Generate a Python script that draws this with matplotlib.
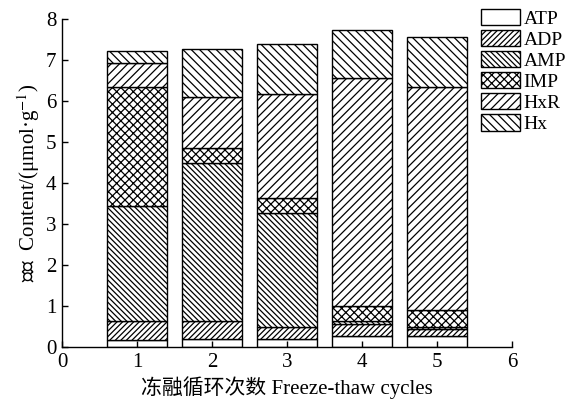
import matplotlib
matplotlib.use("Agg")
import matplotlib.pyplot as plt
import numpy as np

plt.rcParams['font.family'] = ['Liberation Serif', 'Noto Sans CJK SC']
plt.rcParams['mathtext.fontset'] = 'stix'
plt.rcParams['hatch.linewidth'] = 0.9

cycles = [1, 2, 3, 4, 5]
components = ["ATP", "ADP", "AMP", "IMP", "HxR", "Hx"]
ATP = [0.17, 0.20, 0.20, 0.27, 0.28]
ADP = [0.46, 0.43, 0.30, 0.29, 0.15]
AMP = [2.81, 3.85, 2.76, 0.08, 0.07]
IMP = [2.90, 0.38, 0.37, 0.37, 0.41]
HxR = [0.58, 1.23, 2.54, 5.54, 5.43]
Hx = [0.31, 1.19, 1.22, 1.18, 1.22]
series = [ATP, ADP, AMP, IMP, HxR, Hx]
hatches = ["", "//////", "\\\\\\\\\\\\", "xxxx", "////", "\\\\\\\\"]

fig = plt.figure(figsize=(5.71, 4.05), dpi=100)
ax = fig.add_axes([0.1086, 0.1432, 0.788, 0.8098])

bottom = np.zeros(len(cycles))
for name, vals, h in zip(components, series, hatches):
    ax.bar(cycles, vals, width=0.8, bottom=bottom, color="white",
           edgecolor="black", linewidth=1.0, hatch=h, label=name)
    bottom += np.array(vals)

ax.set_xlim(0, 6)
ax.set_ylim(0, 8)
ax.set_xticks(range(0, 7))
ax.set_yticks(range(0, 9))
ax.tick_params(direction="in", labelsize=15, length=4, width=1, pad=4)
ax.spines["top"].set_visible(False)
ax.spines["right"].set_visible(False)
for s in ["left", "bottom"]:
    ax.spines[s].set_linewidth(1.0)

ax.set_xlabel("冻融循环次数 Freeze-thaw cycles", fontsize=15, labelpad=3)
ax.set_ylabel("含量  Content/(μmol·g$^{-1}$)", fontsize=15, labelpad=3)

fig.legend(loc="upper left", bbox_to_anchor=(0.842, 0.978), frameon=False,
           fontsize=14, handlelength=2.0, handleheight=0.9,
           labelspacing=0.12, handletextpad=0.2, borderpad=0, borderaxespad=0)

fig.savefig("out.png", dpi=100)
